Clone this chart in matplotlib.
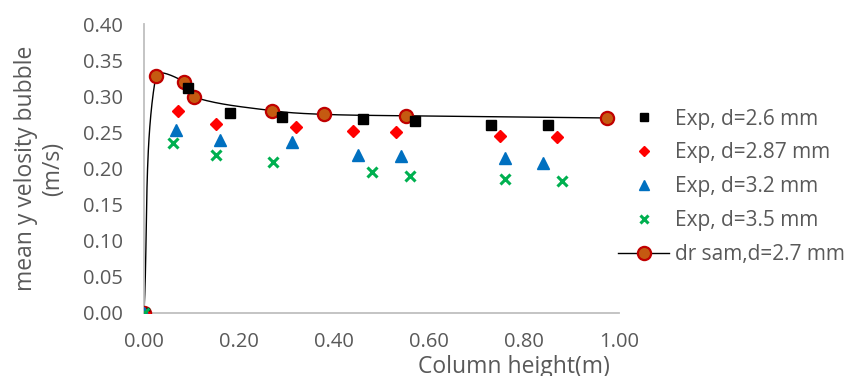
import numpy as np
import matplotlib
matplotlib.use("Agg")
import matplotlib.pyplot as plt

plt.rcParams['font.family'] = ['Open Sans', 'DejaVu Sans']

# experimental data (column height in m, mean y velocity in m/s)
x_26 = [0.0, 0.093, 0.181, 0.291, 0.462, 0.571, 0.731, 0.851]
y_26 = [0.0, 0.312, 0.277, 0.271, 0.269, 0.266, 0.260, 0.260]

x_287 = [0.0, 0.071, 0.152, 0.321, 0.441, 0.531, 0.750, 0.870]
y_287 = [0.0, 0.280, 0.261, 0.257, 0.252, 0.251, 0.245, 0.243]

x_32 = [0.0, 0.067, 0.161, 0.311, 0.451, 0.541, 0.761, 0.841]
y_32 = [0.0, 0.253, 0.239, 0.237, 0.219, 0.217, 0.214, 0.207]

x_35 = [0.0, 0.061, 0.152, 0.271, 0.481, 0.561, 0.761, 0.881]
y_35 = [0.0, 0.235, 0.219, 0.209, 0.195, 0.190, 0.185, 0.183]

# simulation
x_sim = [0.0, 0.025, 0.085, 0.105, 0.270, 0.378, 0.551, 0.975]
y_sim = [0.0, 0.328, 0.320, 0.299, 0.280, 0.275, 0.273, 0.270]

labels = ['Exp, d=2.6 mm', 'Exp, d=2.87 mm', 'Exp, d=3.2 mm',
          'Exp, d=3.5 mm', 'dr sam,d=2.7 mm']


def smooth(xs, ys, sx=475.0, sy=289.0 / 0.4, n=40):
    # excel-like bezier smoothing, done in pixel-ish space
    p = np.column_stack([np.array(xs) * sx, np.array(ys) * sy])
    out = [p[0]]
    m = len(p)
    for i in range(m - 1):
        p0 = p[i - 1] if i > 0 else p[i]
        p1, p2 = p[i], p[i + 1]
        p3 = p[i + 2] if i + 2 < m else p[i + 1]
        d01 = np.hypot(*(p1 - p0))
        d12 = np.hypot(*(p2 - p1))
        d23 = np.hypot(*(p3 - p2))
        f1 = d12 / (d01 + d12) / 3 if d01 + d12 > 0 else 0
        f2 = d12 / (d12 + d23) / 3 if d12 + d23 > 0 else 0
        c1 = p1 + (p2 - p0) * f1
        c2 = p2 - (p3 - p1) * f2
        t = np.linspace(0, 1, n)[1:, None]
        seg = ((1 - t) ** 3) * p1 + 3 * t * (1 - t) ** 2 * c1 + 3 * t ** 2 * (1 - t) * c2 + t ** 3 * p2
        out.extend(seg)
    out = np.array(out)
    return out[:, 0] / sx, out[:, 1] / sy


fig = plt.figure(figsize=(8.44, 3.76), dpi=100)
ax = fig.add_axes([0.1706, 0.1676, 0.5628, 0.7684])

sx_line, sy_line = smooth(x_sim, y_sim)
ax.plot(sx_line, sy_line, color='black', lw=1.0, zorder=2)
ax.plot(x_sim, y_sim, ls='none', marker='o', ms=9.5, mfc='#c55a11', mec='#c00000', mew=1.6, zorder=3)

ax.plot(x_26, y_26, ls='none', marker='s', ms=6.5, color='black', zorder=4)
ax.plot(x_287, y_287, ls='none', marker='D', ms=6, color='#ff0000', zorder=4)
ax.plot(x_32, y_32, ls='none', marker='^', ms=8, color='#0070c0', zorder=4)
ax.plot(x_35, y_35, ls='none', marker='x', ms=6.5, mew=2.2, color='#00b050', zorder=4)

# legend handles
h = [
    plt.Line2D([], [], ls='none', marker='s', ms=6, color='black'),
    plt.Line2D([], [], ls='none', marker='D', ms=5.5, color='#ff0000'),
    plt.Line2D([], [], ls='none', marker='^', ms=7.5, color='#0070c0'),
    plt.Line2D([], [], ls='none', marker='x', ms=6, mew=2.2, color='#00b050'),
    plt.Line2D([], [], color='black', lw=1.0, marker='o', ms=9.5, mfc='#c55a11', mec='#c00000', mew=1.6),
]
leg = fig.legend(h, labels, loc='center left', bbox_to_anchor=(0.71, 0.503), frameon=False,
                 fontsize=15, labelspacing=0.62, handlelength=2.45, handletextpad=0.3)
for t in leg.get_texts():
    t.set_color('#595959')

ax.set_xlim(0, 1.0)
ax.set_ylim(0, 0.40)
ax.set_xticks(np.arange(0, 1.01, 0.2))
ax.set_yticks(np.arange(0, 0.401, 0.05))
ax.xaxis.set_major_formatter(matplotlib.ticker.FormatStrFormatter('%.2f'))
ax.yaxis.set_major_formatter(matplotlib.ticker.FormatStrFormatter('%.2f'))
ax.tick_params(length=0, labelsize=14.5, colors='#595959')
ax.tick_params(axis='x', pad=14)
ax.tick_params(axis='y', pad=15)

for s in ['top', 'right']:
    ax.spines[s].set_visible(False)
for s in ['left', 'bottom']:
    ax.spines[s].set_color('#bfbfbf')
    ax.spines[s].set_linewidth(1.3)

ax.set_ylabel('mean y velosity bubble\n(m/s)', fontsize=16.5, color='#595959', linespacing=1.2)
ax.yaxis.set_label_coords(-0.165, 0.5)
ax.set_xlabel('Column height(m)', fontsize=16.5, color='#595959')
ax.xaxis.set_label_coords(0.779, -0.145)

fig.savefig('out.png', dpi=100)
